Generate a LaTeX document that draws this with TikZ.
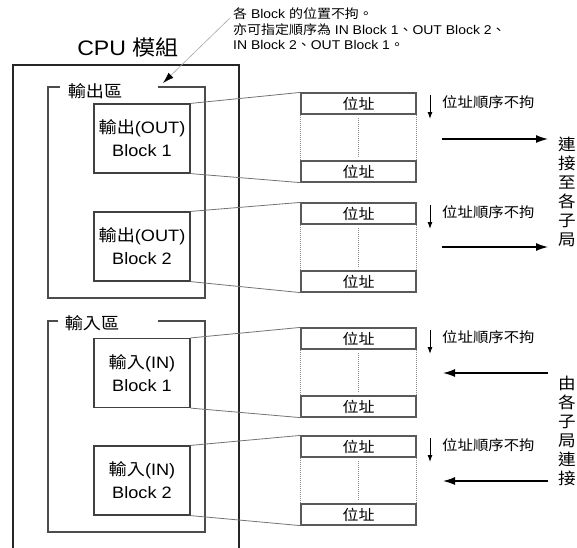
\documentclass[tikz,border=0pt]{standalone}
\usepackage{fontspec}
\setmainfont[FakeStretch=1.1]{Liberation Sans}
\newfontfamily\cjk[FakeStretch=1.1]{Noto Sans CJK TC}
\newcommand\C[1]{{\cjk #1}}
\usetikzlibrary{arrows.meta}
\begin{document}
\begin{tikzpicture}[x=1pt,y=-1pt,
  cpu/.style={line width=2pt, draw=black!85},
  region/.style={line width=1.2pt, draw=black!70},
  blk/.style={draw=black!75, line width=1.2pt, minimum width=96pt, minimum height=69pt, align=center, font=\fontsize{16.5}{23}\selectfont, inner sep=0pt},
  link/.style={draw=black!55, line width=0.8pt},
  cell/.style={draw=black!65, line width=1.2pt, minimum width=115pt, minimum height=21pt, inner sep=0pt, font=\cjk\fontsize{14.5}{14.5}\selectfont},
  dots/.style={draw=black!45, line width=1pt, densely dotted},
  note/.style={font=\fontsize{12.7}{12.7}\selectfont, anchor=west, inner sep=0pt},
  side/.style={font=\cjk\fontsize{14}{14}\selectfont, anchor=west, inner sep=0pt},
  vtext/.style={font=\cjk\fontsize{16}{19}\selectfont, align=center, inner sep=0pt},
  lbl/.style={font=\cjk\fontsize{16.5}{16.5}\selectfont, inner sep=0pt},
  bigarrow/.style={line width=1.3pt, -{Latex[length=12pt,width=8pt]}},
  downarrow/.style={line width=1pt, -{Latex[length=7pt,width=5pt]}}
]
\useasboundingbox (0,0) rectangle (577,547);

% CPU module frame
\node[font=\fontsize{21}{21}\selectfont, inner sep=0pt] (cpu) at (128,47) {CPU \C{模組}};
\draw[cpu] (13,550) -- (13,65) -- (239,65) -- (239,550);

% leader from note
\coordinate (ls) at (230,18);
\coordinate (lt) at (163,83);
\draw[draw=black!35, line width=0.6pt, -{Latex[length=11pt,width=7pt,black]}] (ls) -- (lt);

% notes
\node[note] (n1) at (233,14) {\C{各} Block \C{的位置不拘。}};
\node[note] (n2) at (233,30) {\C{亦可指定順序為} IN Block 1\C{、}OUT Block 2\C{、}};
\node[note] (n3) at (233,45) {IN Block 2\C{、}OUT Block 1\C{。}};

% regions
\draw[region] (60,87) -- (48,87) -- (48,298) -- (205,298) -- (205,87) -- (158,87);
\node[lbl] (lo) at (95,91) {輸出區};
\draw[region] (58,321) -- (48,321) -- (48,532) -- (205,532) -- (205,321) -- (158,321);
\node[lbl] (li) at (92,323) {輸入區};

% blocks
\node[blk] (b1) at (142,138.5) {\C{輸出}(OUT)\\Block 1};
\node[blk] (b2) at (142,246.5) {\C{輸出}(OUT)\\Block 2};
\node[blk] (b3) at (142,373) {\C{輸入}(IN)\\Block 1};
\node[blk] (b4) at (142,480.5) {\C{輸入}(IN)\\Block 2};

% memory areas
\foreach \n/\t in {1/93,2/203,3/328,4/436}{
  \node[cell] (t\n) at (358.5,\t+10.5) {位址};
  \node[cell] (u\n) at (358.5,\t+78.5) {位址};
  \draw[dots] (t\n.south west) -- (u\n.north west);
  \draw[dots] (t\n.south east) -- (u\n.north east);
  \draw[dots] ([yshift=-3pt]t\n.south) -- ([yshift=4pt]u\n.north);
  \draw[link] (b\n.north east) -- (t\n.north west);
  \draw[link] (b\n.south east) -- (u\n.south west);
  \coordinate (d\n s) at (430,\t+2);
  \coordinate (d\n e) at (430,\t+26);
  \draw[downarrow] (d\n s) -- (d\n e);
  \node[side] (s\n) at (442,\t+9) {位址順序不拘};
}

% transfer arrows
\coordinate (r1a) at (442,139); \coordinate (r1b) at (548,139);
\coordinate (r2a) at (442,247); \coordinate (r2b) at (548,247);
\coordinate (r3a) at (548,373); \coordinate (r3b) at (443,373);
\coordinate (r4a) at (548,481); \coordinate (r4b) at (443,481);
\draw[bigarrow] (r1a) -- (r1b);
\draw[bigarrow] (r2a) -- (r2b);
\draw[bigarrow] (r3a) -- (r3b);
\draw[bigarrow] (r4a) -- (r4b);

\node[vtext] (v1) at (567,191.5) {連\\接\\至\\各\\子\\局};
\node[vtext] (v2) at (567,431) {由\\各\\子\\局\\連\\接};
\end{tikzpicture}
\end{document}
